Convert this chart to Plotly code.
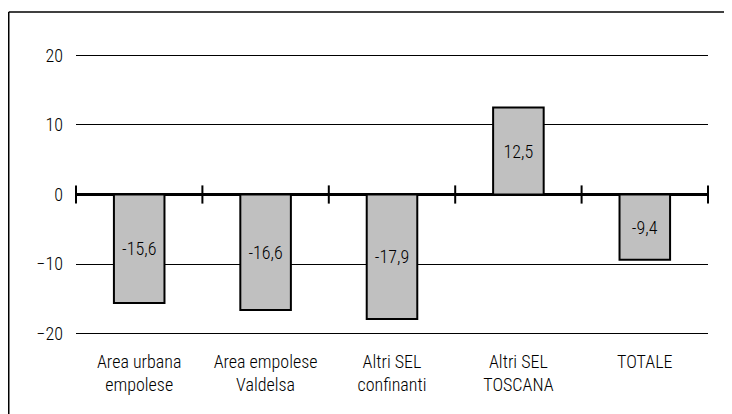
import plotly.graph_objects as go

# ---------------------------------------------------------------------------
# Data
# ---------------------------------------------------------------------------

categories = ["Area urbana<br>empolese", "Area empolese<br>Valdelsa",
              "Altri SEL<br>confinanti", "Altri SEL<br>TOSCANA", "TOTALE"]
values = [-15.6, -16.6, -17.9, 12.5, -9.4]
y_ticks = [-20, -10, 0, 10, 20]

FONT = "Roboto Condensed, DejaVu Sans Condensed, Roboto, sans-serif"
# page body adds an 8px offset, so the figure is a bit smaller than the window
W, H = 724, 406
L, R, T, B = 68, 24, 44, 77

fig = go.Figure()

fig.add_trace(go.Bar(
    x=list(range(len(categories))),
    y=values,
    marker=dict(color="#C0C0C0", line=dict(color="#000000", width=2)),
    text=[f"{v:.1f}".replace(".", ",") for v in values],
    textposition="inside",
    insidetextanchor="middle",
    textfont=dict(family=FONT, size=18, weight=300, color="#000000"),
    hoverinfo="skip",
    showlegend=False,
))

# tick marks on the zero line at category boundaries
bounds = [i - 0.5 for i in range(len(categories) + 1)]
fig.add_trace(go.Scatter(
    x=bounds,
    y=[0] * len(bounds),
    mode="markers",
    marker=dict(symbol="line-ns-open", size=13, color="#000000",
                line=dict(color="#000000", width=2)),
    hoverinfo="skip",
    showlegend=False,
    cliponaxis=False,
))

# outer frame (only top and left edges fall inside the window)
pw, ph = W - L - R, H - T - B
fx = (0.75 - L) / pw
fy = (H - B - 4) / ph
fig.add_shape(type="line", xref="paper", yref="paper",
              x0=fx, x1=(W - L) / pw, y0=fy, y1=fy,
              line=dict(color="#000000", width=1.5))
fig.add_shape(type="line", xref="paper", yref="paper",
              x0=fx, x1=fx, y0=fy, y1=-B / ph,
              line=dict(color="#000000", width=1.5))

fig.update_layout(
    width=W,
    height=H,
    margin=dict(l=L, r=R, t=T, b=B),
    paper_bgcolor="#FFFFFF",
    plot_bgcolor="#FFFFFF",
    bargap=0.6,
    showlegend=False,
    xaxis=dict(
        range=[-0.5, len(categories) - 0.5],
        tickvals=list(range(len(categories))),
        ticktext=categories,
        showgrid=False,
        zeroline=False,
        showline=False,
        ticks="",
        ticklabelstandoff=12,
        tickfont=dict(family=FONT, size=18, weight=300, color="#000000"),
    ),
    yaxis=dict(
        range=[-20.5, 20.5],
        tickvals=y_ticks,
        showgrid=True,
        gridcolor="#000000",
        gridwidth=1,
        zeroline=True,
        zerolinecolor="#000000",
        zerolinewidth=2.5,
        showline=False,
        ticks="",
        ticklabelstandoff=12,
        tickfont=dict(family=FONT, size=18, weight=300, color="#000000"),
    ),
)

fig.write_html("out.html")
